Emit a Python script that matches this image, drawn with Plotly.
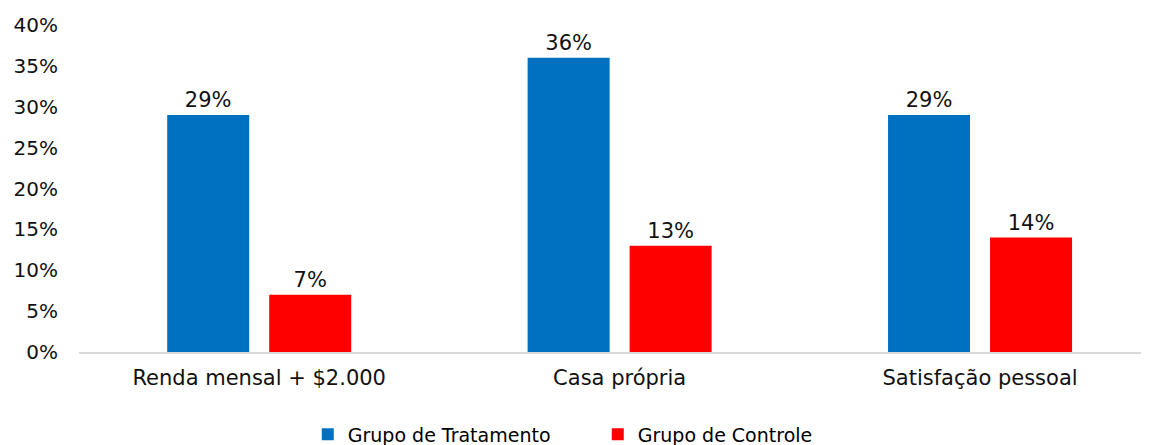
import plotly.graph_objects as go

# data
categories = ["Renda mensal + $2.000", "Casa própria", "Satisfação pessoal"]
tratamento = [29, 36, 29]
controle = [7, 13, 14]
series_names = ["Grupo de Tratamento", "Grupo de Controle"]
y_ticks = [0, 5, 10, 15, 20, 25, 30, 35, 40]

FONT = "DejaVu Sans"
colors = ["#0070C0", "#FF0000"]

fig = go.Figure()
for name, vals, clr in zip(series_names, [tratamento, controle], colors):
    fig.add_trace(go.Bar(
        x=categories, y=vals, name=name,
        marker=dict(color=clr, line=dict(width=0)),
        text=[f"{v}%" for v in vals], textposition="outside",
        textfont=dict(family=FONT, size=21, color="#111"),
        cliponaxis=False,
    ))

# page body has an 8px default margin, so the figure is sized 8px smaller
fig.update_layout(
    width=1141, height=437,
    margin=dict(l=71, r=1, t=17, b=93, autoexpand=False),
    plot_bgcolor="white", paper_bgcolor="white",
    barmode="group", bargap=0.434, bargroupgap=0.196,
    font=dict(family=FONT, color="#111"),
    showlegend=True,
    legend=dict(orientation="h", x=0.214, xanchor="left", y=-0.252, yanchor="middle",
                font=dict(family=FONT, size=19, color="#000"),
                entrywidth=245, entrywidthmode="pixels", traceorder="normal"),
)
fig.update_xaxes(range=[-0.5, 2.466], showline=True, linecolor="#D9D9D9", linewidth=1.5,
                 showgrid=False, ticks="", tickfont=dict(family=FONT, size=21, color="#111"),
                 ticklabelstandoff=6, automargin=False)
fig.update_yaxes(range=[0, 40], tickvals=y_ticks, ticktext=[f"{v}%" for v in y_ticks],
                 showgrid=False, zeroline=False, showline=False, ticks="",
                 tickfont=dict(family=FONT, size=20, color="#111"), ticklabelstandoff=20,
                 automargin=False)

fig.write_html("out.html")
